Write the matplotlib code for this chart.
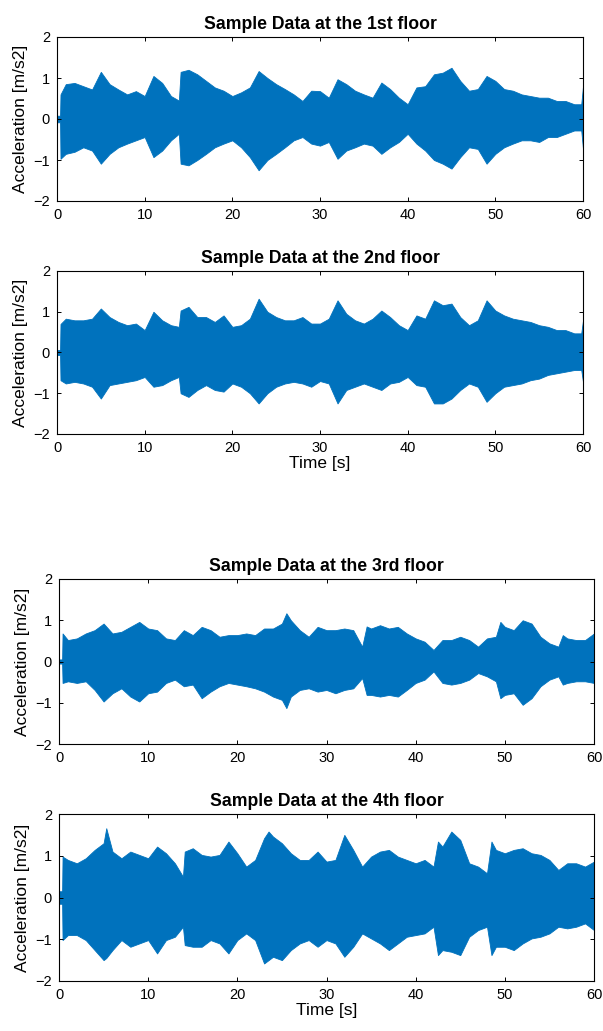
import matplotlib
matplotlib.use('Agg')
import matplotlib.pyplot as plt

plt.rcParams['font.family'] = ['Liberation Sans', 'DejaVu Sans']

t_f1 = [0, 0.35, 0.4] + list(range(1, 14)) + [13.9, 14.1] + list(range(15, 60)) + [59.8, 60]
up_f1 = [0.08, 0.08, 0.60,
         0.85, 0.88, 0.80, 0.72, 1.15, 0.85, 0.72, 0.60, 0.68, 0.56, 1.05, 0.88, 0.56,
         0.45, 1.15,
         1.20, 1.09, 0.93, 0.77, 0.69, 0.56, 0.65, 0.77, 1.17, 1.00,
         0.85, 0.73, 0.60, 0.44, 0.69, 0.68, 0.52, 0.97, 0.85, 0.69,
         0.60, 0.52, 0.89, 0.73, 0.52, 0.36, 0.77, 0.80, 1.09, 1.13,
         1.25, 0.93, 0.69, 0.73, 1.05, 0.93, 0.73, 0.69, 0.60, 0.56,
         0.52, 0.52, 0.44, 0.44, 0.36,
         0.36, 0.80]
lo_f1 = [-0.08, -0.08, -0.97,
         -0.85, -0.80, -0.69, -0.77, -1.09, -0.85, -0.69, -0.60, -0.52, -0.44, -0.93, -0.77, -0.52,
         -0.36, -1.09,
         -1.13, -1.00, -0.85, -0.69, -0.60, -0.52, -0.69, -0.93, -1.25, -1.00,
         -0.85, -0.69, -0.52, -0.44, -0.60, -0.65, -0.56, -0.97, -0.77, -0.69,
         -0.60, -0.65, -0.85, -0.69, -0.56, -0.36, -0.60, -0.77, -1.00, -1.09,
         -1.21, -0.93, -0.69, -0.73, -1.09, -0.85, -0.69, -0.60, -0.52, -0.52,
         -0.56, -0.44, -0.44, -0.36, -0.28,
         -0.28, -0.73]

t_f2 = list(t_f1)
up_f2 = [0.06, 0.06, 0.70,
         0.83, 0.79, 0.79, 0.83, 1.08, 0.87, 0.75, 0.67, 0.71, 0.55, 1.00, 0.79, 0.67,
         0.63, 1.03,
         1.12, 0.87, 0.87, 0.75, 0.91, 0.63, 0.67, 0.83, 1.32, 1.00,
         0.87, 0.79, 0.79, 0.87, 0.71, 0.71, 0.83, 1.28, 0.95, 0.79,
         0.71, 0.83, 1.03, 0.87, 0.67, 0.55, 0.91, 0.83, 1.28, 1.16,
         1.20, 0.87, 0.67, 0.79, 1.28, 1.03, 0.91, 0.83, 0.79, 0.75,
         0.67, 0.63, 0.55, 0.55, 0.47,
         0.47, 0.79]
lo_f2 = [-0.06, -0.06, -0.68,
         -0.76, -0.72, -0.76, -0.84, -1.13, -0.80, -0.76, -0.72, -0.68, -0.60, -0.84, -0.80, -0.68,
         -0.60, -1.00,
         -1.09, -0.92, -0.80, -0.92, -0.96, -0.76, -0.84, -1.00, -1.25, -1.00,
         -0.84, -0.76, -0.72, -0.76, -0.84, -0.70, -0.76, -1.25, -0.92, -0.84,
         -0.76, -0.84, -0.92, -0.76, -0.72, -0.60, -0.80, -0.84, -1.25, -1.25,
         -1.13, -0.92, -0.76, -0.84, -1.21, -1.00, -0.84, -0.80, -0.76, -0.68,
         -0.64, -0.55, -0.51, -0.47, -0.43,
         -0.43, -0.72]

t_f3 = ([0, 0.35, 0.4] + list(range(1, 26)) + [25.5] + list(range(26, 35)) + [34.5]
        + list(range(35, 50)) + [49.5] + list(range(50, 57)) + [56.5] + list(range(57, 61)))
up_f3 = [0.05, 0.05, 0.68,
         0.52, 0.56, 0.68, 0.76, 0.92, 0.68, 0.72, 0.84, 0.96, 0.80,
         0.76, 0.56, 0.52, 0.76, 0.64, 0.84, 0.76, 0.60, 0.64, 0.64,
         0.68, 0.64, 0.80, 0.80, 0.92,
         1.17,
         1.00, 0.76, 0.60, 0.84, 0.76, 0.76, 0.80, 0.76, 0.36,
         0.85,
         0.80, 0.88, 0.80, 0.84, 0.68, 0.56, 0.48, 0.28, 0.52, 0.52, 0.60, 0.52, 0.36, 0.56, 0.60,
         0.96,
         0.84, 0.76, 1.00, 0.92, 0.60, 0.44, 0.36,
         0.64,
         0.56, 0.52, 0.52, 0.68]
lo_f3 = [-0.05, -0.05, -0.52,
         -0.48, -0.52, -0.48, -0.69, -0.97, -0.77, -0.65, -0.85, -0.97, -0.77,
         -0.73, -0.52, -0.44, -0.60, -0.56, -0.89, -0.73, -0.60, -0.52, -0.56,
         -0.60, -0.65, -0.73, -0.85, -0.93,
         -1.13,
         -0.85, -0.69, -0.65, -0.73, -0.69, -0.77, -0.69, -0.65, -0.40,
         -0.81,
         -0.81, -0.85, -0.81, -0.85, -0.69, -0.52, -0.44, -0.24, -0.52, -0.56, -0.52, -0.44, -0.28, -0.36, -0.48,
         -0.89,
         -0.81, -0.77, -1.05, -0.89, -0.60, -0.44, -0.36,
         -0.56,
         -0.52, -0.48, -0.48, -0.52]

t_f4 = ([0, 0.35, 0.4] + list(range(1, 6)) + [5.3] + list(range(6, 14)) + [13.9, 14.1]
        + list(range(15, 24)) + [23.5] + list(range(24, 43)) + [42.5] + list(range(43, 49))
        + [48.5] + list(range(49, 61)))
up_f4 = [0.15, 0.15, 0.98,
         0.90, 0.82, 0.94, 1.14, 1.30,
         1.66,
         1.10, 0.94, 1.10, 1.02, 0.94, 1.22, 1.06, 0.82,
         0.50, 1.10,
         1.18, 1.02, 0.98, 1.02, 1.34, 1.06, 0.74, 0.90, 1.42,
         1.58,
         1.46, 1.30, 1.06, 0.90, 0.90, 1.10, 0.86, 0.90, 1.50, 1.14,
         0.74, 0.98, 1.10, 1.14, 0.98, 0.90, 0.82, 0.90, 0.74,
         1.34,
         1.22, 1.58, 1.38, 0.82, 0.74, 0.58,
         1.34,
         1.14, 1.06, 1.14, 1.18, 1.06, 1.02, 0.90, 0.66, 0.82, 0.82, 0.74, 0.86]
lo_f4 = [-0.15, -0.15, -1.02,
         -0.90, -0.90, -1.02, -1.26, -1.50,
         -1.45,
         -1.26, -1.02, -1.18, -1.10, -1.02, -1.34, -1.02, -0.94,
         -0.70, -1.14,
         -1.18, -1.18, -1.02, -1.10, -1.34, -1.02, -0.86, -1.02, -1.58,
         -1.50,
         -1.42, -1.50, -1.26, -1.10, -1.02, -1.18, -1.02, -1.10, -1.42, -1.18,
         -0.86, -0.98, -1.10, -1.26, -1.10, -0.94, -0.90, -0.86, -0.70,
         -1.38,
         -1.26, -1.30, -1.38, -0.94, -0.78, -0.70,
         -1.38,
         -1.18, -1.18, -1.26, -1.10, -0.98, -0.94, -0.86, -0.70, -0.74, -0.70, -0.62, -0.78]

titles = ['Sample Data at the 1st floor', 'Sample Data at the 2nd floor',
          'Sample Data at the 3rd floor', 'Sample Data at the 4th floor']
x_ticks = [0, 10, 20, 30, 40, 50, 60]
y_ticks = [-2, -1, 0, 1, 2]

W, H = 603, 1031
# axes boxes in pixels: left, right, top, bottom
boxes = [(57, 583, 37, 201), (57, 583, 271, 434),
         (59, 594, 579, 744), (59, 594, 814, 981)]
series = [(t_f1, up_f1, lo_f1), (t_f2, up_f2, lo_f2),
          (t_f3, up_f3, lo_f3), (t_f4, up_f4, lo_f4)]

fig = plt.figure(figsize=(W / 100, H / 100), dpi=100)
blue = '#0072BD'

for i in range(4):
    l, r, t, b = boxes[i]
    ax = fig.add_axes([l / W, 1 - b / H, (r - l) / W, (b - t) / H])
    tt, up, lo = series[i]
    ax.fill_between(tt, lo, up, color=blue, lw=0.6)
    ax.set_xlim(0, 60)
    ax.set_ylim(-2, 2)
    ax.set_xticks(x_ticks)
    ax.set_yticks(y_ticks)
    ax.tick_params(direction='in', top=True, right=True, length=3, width=0.7,
                   labelsize=10.5, pad=5)
    for s in ax.spines.values():
        s.set_linewidth(0.8)
    ax.set_title(titles[i], fontsize=12.7, fontweight='bold', pad=6)
    ax.set_ylabel('Acceleration [m/s2]', fontsize=12.5, labelpad=4)
    if i in (1, 3):
        ax.set_xlabel('Time [s]', fontsize=12.5, labelpad=1)

fig.savefig('out.png', dpi=100)
